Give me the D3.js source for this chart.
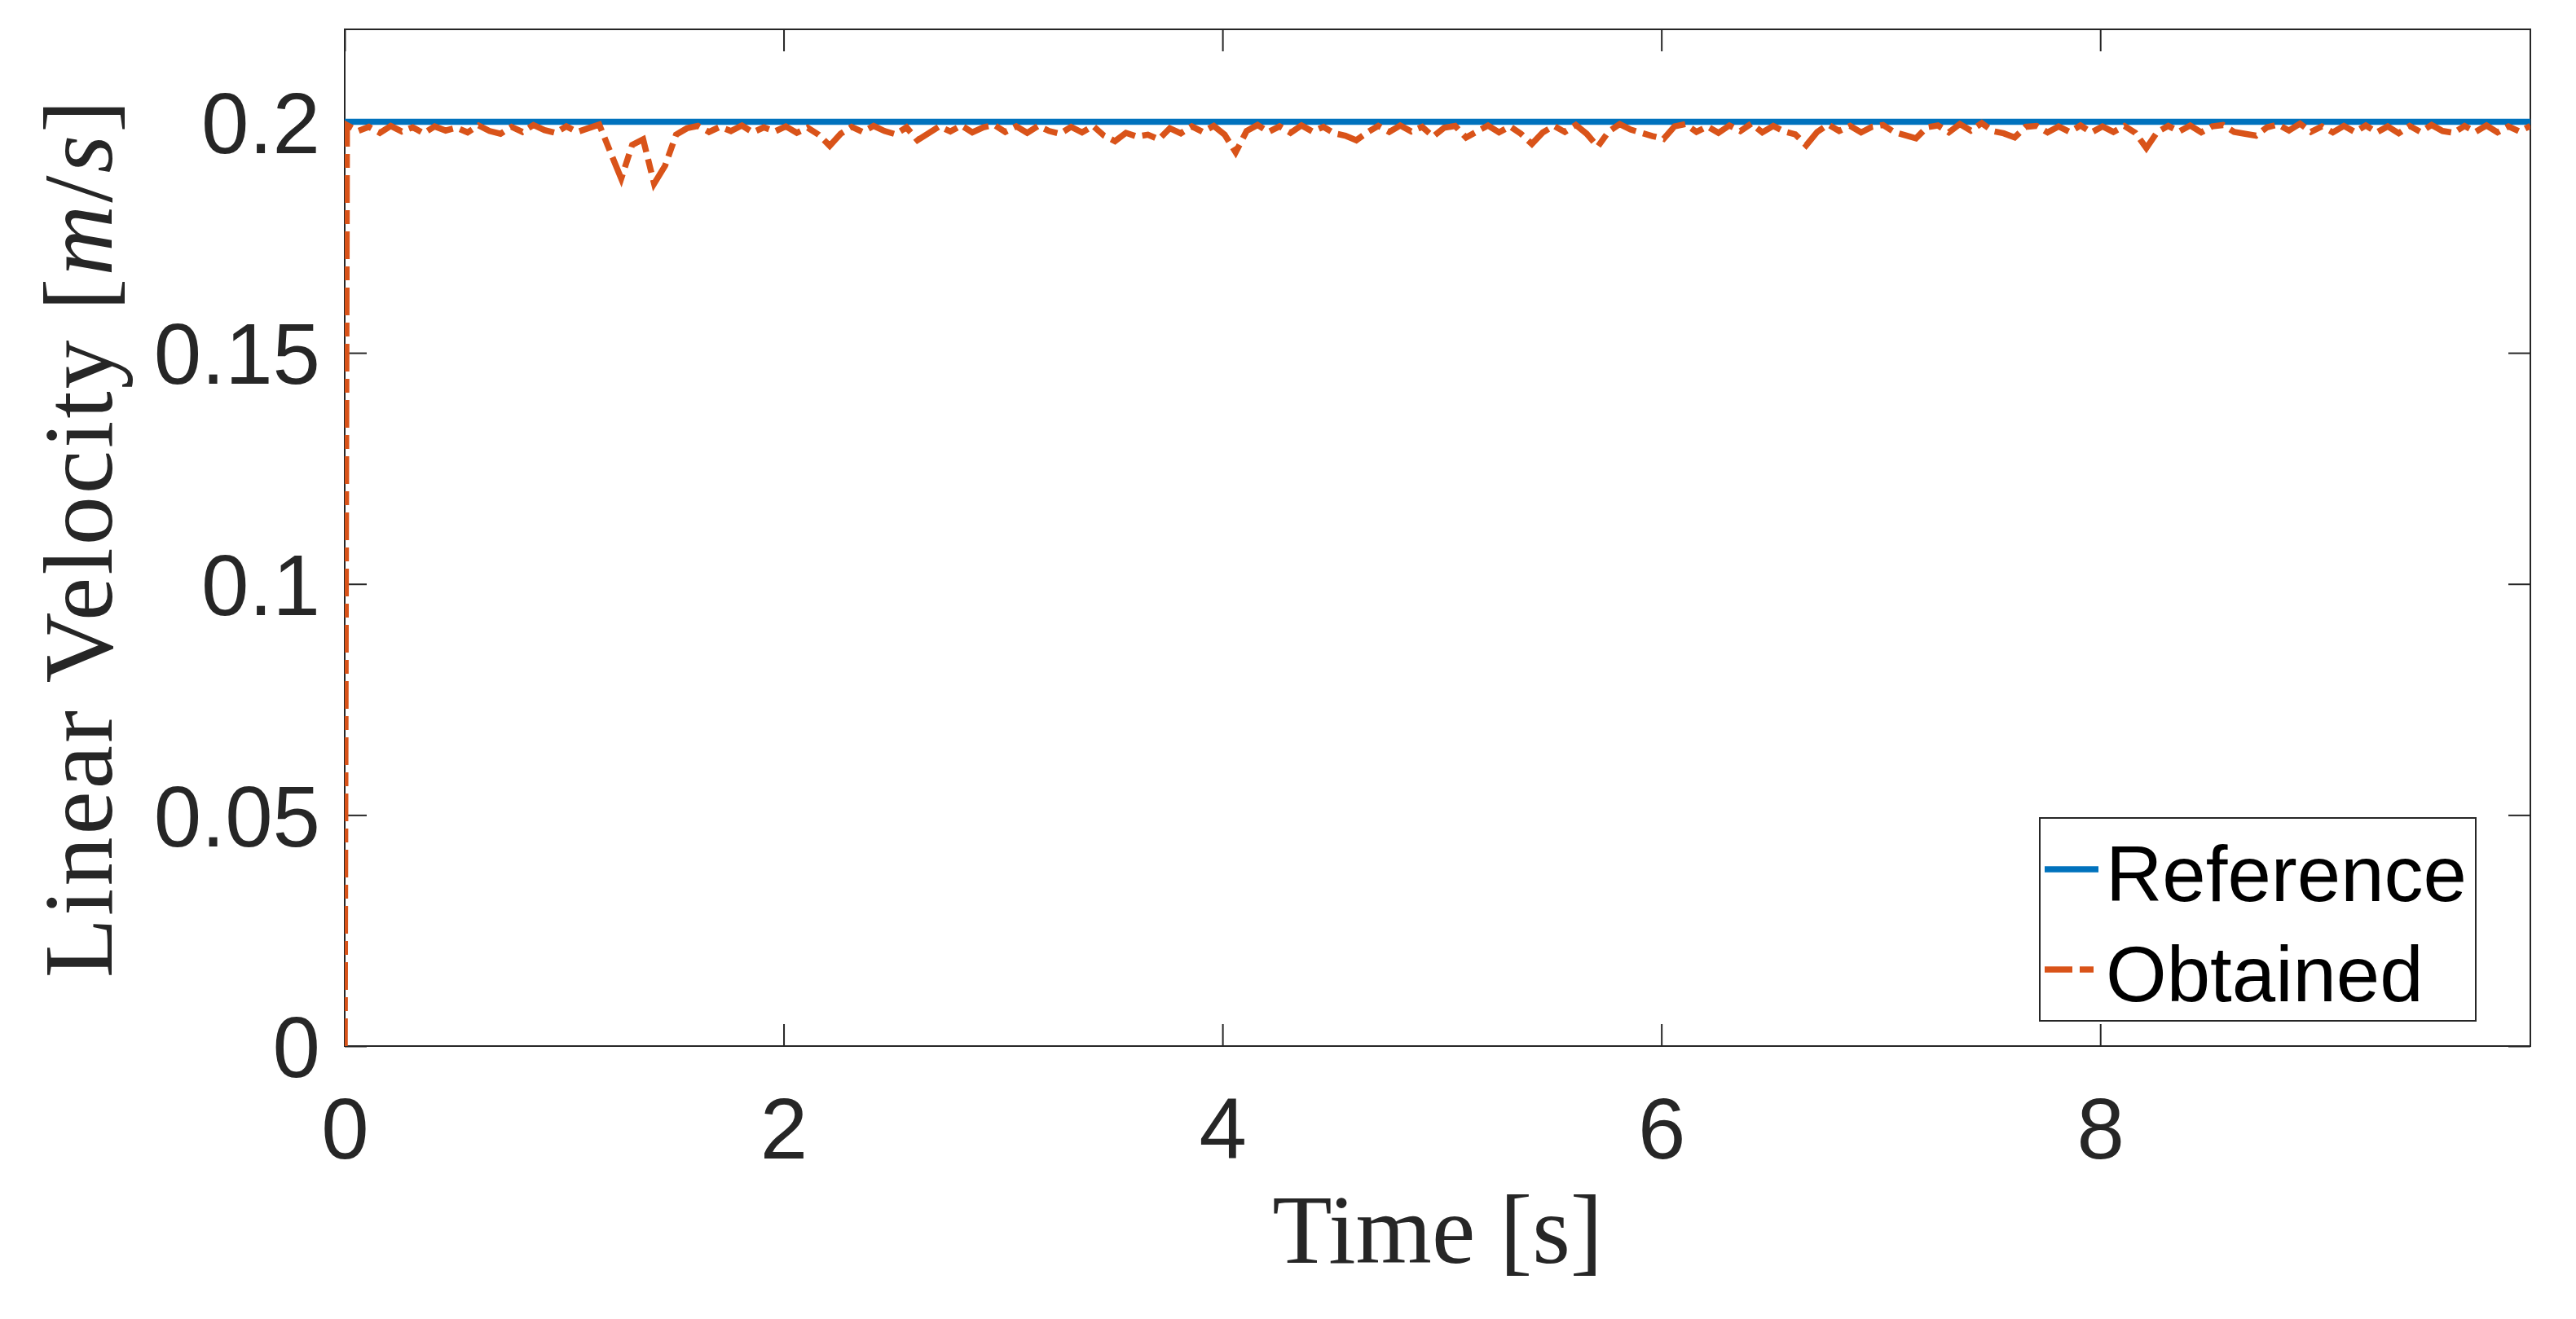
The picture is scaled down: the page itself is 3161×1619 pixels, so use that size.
<!DOCTYPE html>
<html>
<head>
<meta charset="utf-8">
<script src="https://cdn.jsdelivr.net/npm/d3@7"></script>
<style>
    body { margin: 0; background: #fff; }
    .tick text { font-family: "Liberation Sans", Arial, sans-serif; font-size: 105px; fill: #262626; }
    .label { font-family: "Liberation Serif", "Times New Roman", serif; font-size: 120px; fill: #262626; }
    .legend-text { font-family: "Liberation Sans", Arial, sans-serif; font-size: 96px; fill: #000; }
</style>
</head>
<body>
<div id="chart"></div>
<script>
// series names
const seriesNames = ["Reference", "Obtained"];

// reference velocity (constant set point)
const referenceTime = [0, 9.96];
const referenceValue = [0.2, 0.2];

// obtained velocity, sampled every 0.05 s after the first step
const obtainedTime = [0, ...d3.range(0.01, 9.97, 0.05)];
const obtainedValue = [0,
    0.1993, 0.1980, 0.1989, 0.1976, 0.1991, 0.1979, 0.1988, 0.1975, 0.1990, 0.1981,
    0.1987, 0.1977, 0.1992, 0.1980, 0.1974, 0.1989, 0.1978, 0.1993, 0.1982, 0.1976,
    0.1990, 0.1978, 0.1986, 0.1994, 0.1935, 0.1877, 0.1950, 0.1962, 0.1866, 0.1905,
    0.1972, 0.1986, 0.1991, 0.1978, 0.1989, 0.1980, 0.1992, 0.1977, 0.1988, 0.1979,
    0.1990, 0.1976, 0.1987, 0.1972, 0.1948, 0.1974, 0.1989, 0.1978, 0.1991, 0.1980,
    0.1973, 0.1988, 0.1960, 0.1975, 0.1990, 0.1979, 0.1992, 0.1977, 0.1988, 0.1993,
    0.1978, 0.1990, 0.1976, 0.1991, 0.1980, 0.1974, 0.1989, 0.1977, 0.1991, 0.1970,
    0.1958, 0.1976, 0.1968, 0.1972, 0.1962, 0.1986, 0.1975, 0.1990, 0.1978, 0.1991,
    0.1972, 0.1934, 0.1980, 0.1993, 0.1978, 0.1990, 0.1976, 0.1992, 0.1979, 0.1989,
    0.1975, 0.1970, 0.1960, 0.1977, 0.1991, 0.1978, 0.1992, 0.1979, 0.1989, 0.1968,
    0.1987, 0.1991, 0.1966, 0.1979, 0.1992, 0.1977, 0.1990, 0.1974, 0.1952, 0.1977,
    0.1991, 0.1978, 0.1993, 0.1974, 0.1946, 0.1979, 0.1995, 0.1983, 0.1976, 0.1969,
    0.1963, 0.1990, 0.1995, 0.1978, 0.1990, 0.1976, 0.1992, 0.1980, 0.1996, 0.1977,
    0.1991, 0.1979, 0.1973, 0.1949, 0.1978, 0.1994, 0.1980, 0.1991, 0.1977, 0.1989,
    0.1993, 0.1978, 0.1971, 0.1964, 0.1988, 0.1992, 0.1977, 0.1995, 0.1981, 0.1997,
    0.1980, 0.1975, 0.1966, 0.1989, 0.1991, 0.1977, 0.1990, 0.1978, 0.1992, 0.1977,
    0.1990, 0.1978, 0.1991, 0.1976, 0.1943, 0.1978, 0.1991, 0.1979, 0.1992, 0.1977,
    0.1990, 0.1993, 0.1978, 0.1974, 0.1970, 0.1988, 0.1994, 0.1981, 0.1996, 0.1978,
    0.1990, 0.1977, 0.1991, 0.1978, 0.1992, 0.1977, 0.1990, 0.1975, 0.1991, 0.1978,
    0.1993, 0.1980, 0.1976, 0.1991, 0.1978, 0.1992, 0.1977, 0.1990, 0.1979, 0.1991
];

// axis ticks
const xTicks = [0, 2, 4, 6, 8];
const yTicks = [0, 0.05, 0.1, 0.15, 0.2];
const xDomain = [0, 9.96];
const yDomain = [0, 0.22];

const width = 3161, height = 1619;
const margin = { top: 36, right: 56, bottom: 335, left: 423 };
const innerW = width - margin.left - margin.right;
const innerH = height - margin.top - margin.bottom;
const axisColor = "#262626";
const tickLen = 27;
const lineWidth = 7.5;
const dashDot = "34,9,17,9";

const svg = d3.select("#chart").append("svg")
    .attr("width", width)
    .attr("height", height);

const g = svg.append("g")
    .attr("transform", `translate(${margin.left},${margin.top})`);

const x = d3.scaleLinear().domain(xDomain).range([0, innerW]);
const y = d3.scaleLinear().domain(yDomain).range([innerH, 0]);

// axes, ticks pointing inward on all four sides
const styleAxis = sel => {
    sel.select(".domain").remove();
    sel.selectAll(".tick line").attr("stroke", axisColor).attr("stroke-width", 2);
};

g.append("g")
    .attr("transform", `translate(0,${innerH})`)
    .call(d3.axisBottom(x).tickValues(xTicks).tickSizeInner(-tickLen).tickSizeOuter(0).tickPadding(63).tickFormat(d3.format("~g")))
    .call(styleAxis)
    .selectAll("text").attr("font-size", null).attr("font-family", null);

g.append("g")
    .call(d3.axisLeft(y).tickValues(yTicks).tickSizeInner(-tickLen).tickSizeOuter(0).tickPadding(30).tickFormat(d3.format("~g")))
    .call(styleAxis)
    .selectAll("text").attr("dy", "0.36em").attr("font-size", null).attr("font-family", null);

g.append("g")
    .call(d3.axisTop(x).tickValues(xTicks).tickSizeInner(-tickLen).tickSizeOuter(0).tickFormat(""))
    .call(styleAxis);

g.append("g")
    .attr("transform", `translate(${innerW},0)`)
    .call(d3.axisRight(y).tickValues(yTicks).tickSizeInner(-tickLen).tickSizeOuter(0).tickFormat(""))
    .call(styleAxis);

g.append("rect")
    .attr("width", innerW)
    .attr("height", innerH)
    .attr("fill", "none")
    .attr("stroke", axisColor)
    .attr("stroke-width", 2);

// data lines
g.append("clipPath").attr("id", "plot-clip")
    .append("rect").attr("width", innerW).attr("height", innerH);

const line = d3.line()
    .x(d => x(d[0]))
    .y(d => y(d[1]));

const plot = g.append("g").attr("clip-path", "url(#plot-clip)");

plot.append("path")
    .datum(d3.zip(referenceTime, referenceValue))
    .attr("d", line)
    .attr("fill", "none")
    .attr("stroke", "#0072BD")
    .attr("stroke-width", lineWidth);

plot.append("path")
    .datum(d3.zip(obtainedTime, obtainedValue))
    .attr("d", line)
    .attr("fill", "none")
    .attr("stroke", "#D95319")
    .attr("stroke-width", lineWidth)
    .attr("stroke-dasharray", dashDot);

// axis labels
g.append("text")
    .attr("class", "label")
    .attr("x", innerW / 2)
    .attr("y", 1550 - margin.top)
    .attr("text-anchor", "middle")
    .text("Time [s]");

const yLabel = svg.append("text")
    .attr("class", "label")
    .attr("transform", `translate(137,${margin.top + innerH / 2}) rotate(-90)`)
    .attr("text-anchor", "middle")
    .style("letter-spacing", "3px");
yLabel.append("tspan").text("Linear Velocity [");
yLabel.append("tspan").attr("font-style", "italic").text("m");
yLabel.append("tspan").text("/");
yLabel.append("tspan").attr("font-style", "italic").text("s");
yLabel.append("tspan").text("]");

// legend
const legend = svg.append("g").attr("transform", "translate(2503,1004)");
legend.append("rect")
    .attr("width", 535)
    .attr("height", 249)
    .attr("fill", "#fff")
    .attr("stroke", axisColor)
    .attr("stroke-width", 2);

const legendItems = [
    { name: seriesNames[0], color: "#0072BD", dash: null, y: 63 },
    { name: seriesNames[1], color: "#D95319", dash: dashDot, y: 186 }
];

legendItems.forEach(item => {
    legend.append("line")
        .attr("x1", 6).attr("x2", 72)
        .attr("y1", item.y).attr("y2", item.y)
        .attr("stroke", item.color)
        .attr("stroke-width", lineWidth)
        .attr("stroke-dasharray", item.dash);
    legend.append("text")
        .attr("class", "legend-text")
        .attr("x", 81)
        .attr("y", item.y + 39)
        .text(item.name);
});
</script>
</body>
</html>
